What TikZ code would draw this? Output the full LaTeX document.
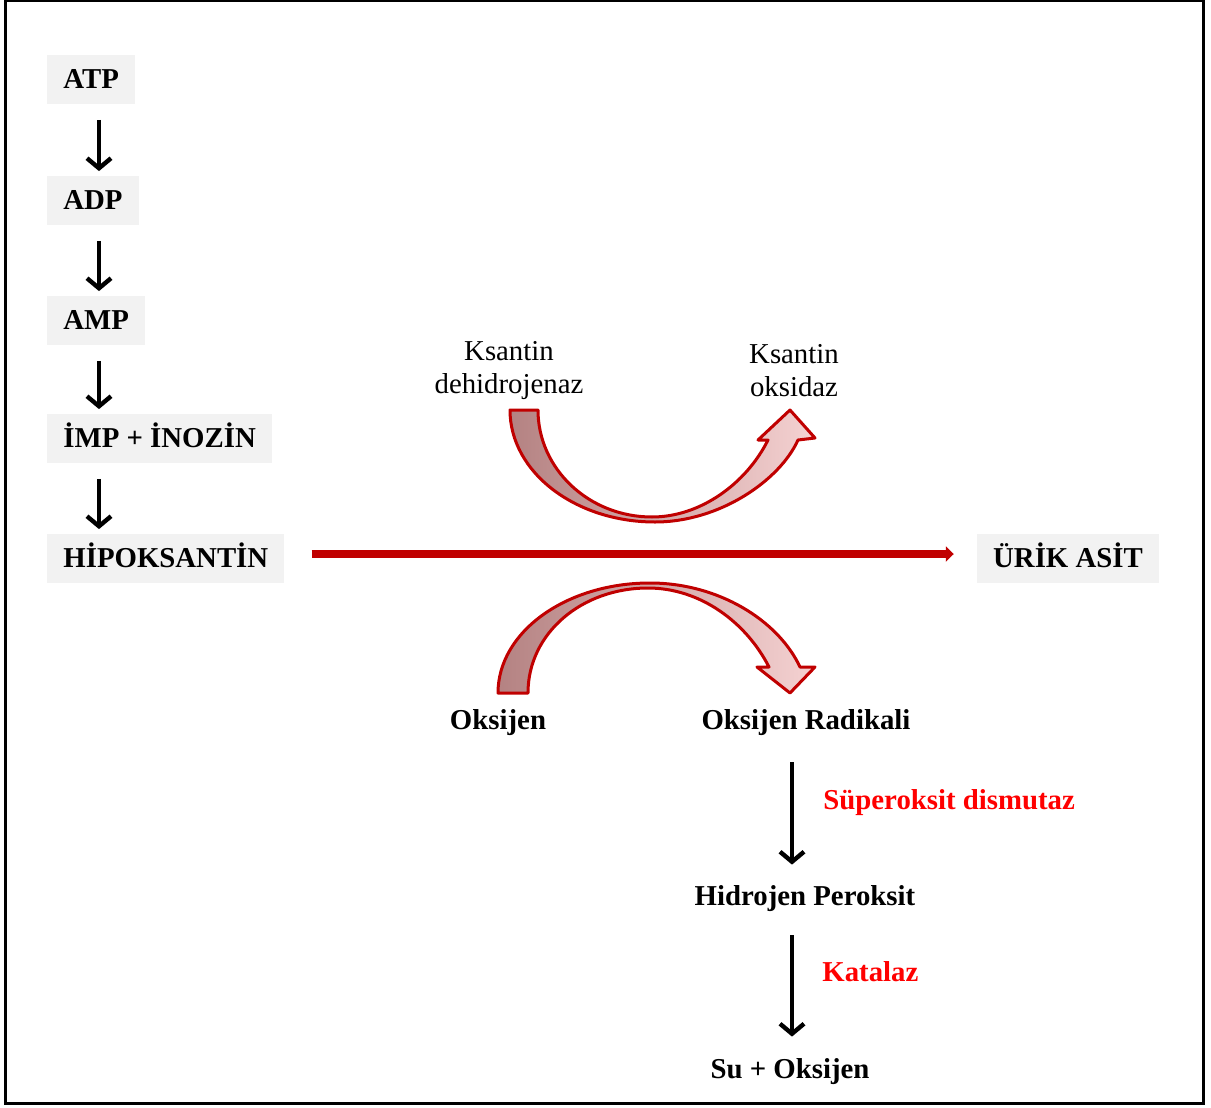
\documentclass[tikz,border=0pt]{standalone}
\usepackage{fontspec}
\setmainfont{Liberation Serif}
\usetikzlibrary{calc, arrows.meta}
\definecolor{darkred}{RGB}{192,0,0}
\definecolor{boxgray}{RGB}{242,242,242}
\definecolor{banddark}{RGB}{180,130,130}
\definecolor{bandlight}{RGB}{245,210,210}

\begin{document}
\begin{tikzpicture}[x=0.5pt, y=-0.5pt,
  every node/.style={font=\fontsize{14.4}{16.5}\selectfont, inner sep=2pt},
  chem/.style={font=\fontsize{14.4}{16.5}\selectfont\bfseries, text height=11.5pt, text depth=2.5pt},
  chembox/.style={chem, fill=boxgray, minimum height=24.5pt, inner xsep=8pt, anchor=west},
  enzyme/.style={align=center},
  redlabel/.style={chem, text=red, anchor=west},
  dnarrow/.style={-{Straight Barb[length=5pt,width=12pt]}, line width=2.2pt},
  redarrow/.style={-{Triangle[length=4pt,width=7.5pt]}, draw=darkred, line width=4pt},
  blockarrow/.style={draw=darkred, line width=1.5pt, line join=round, left color=banddark, right color=bandlight}]
  \useasboundingbox (0,0) rectangle (1211,1108);
  \draw[line width=1.35pt] (5.7,1) rectangle (1203.5,1103.5);

  \node[chembox] (atp) at (47,79) {ATP};
  \node[chembox] (adp) at (47,200) {ADP};
  \node[chembox] (amp) at (47,320) {AMP};
  \node[chembox] (imp) at (47,438) {İMP + İNOZİN};
  \node[chembox] (hipo) at (47,558) {HİPOKSANTİN};
  \node[chembox, anchor=center] (urik) at (1068,558) {ÜRİK ASİT};
  \foreach \a/\b in {atp/adp, adp/amp, amp/imp, imp/hipo}
    \draw[dnarrow] ($(\a.south west)+(52,16)$) -- ($(\b.north west)+(52,-4)$);
  \draw[redarrow, shorten <=13.5pt, shorten >=11.5pt] ($(hipo.east)+(0,-4)$) -- ($(urik.west)+(0,-4)$);

  \node[enzyme] (kdh) at (509,371) {Ksantin\\dehidrojenaz};
  \node[enzyme] (kox) at (794,371) {Ksantin\\oksidaz};
  \draw[blockarrow] (510,410) .. controls (510,472) and (575,522) .. (655,522)
    .. controls (720,522) and (780,480) .. (798,440)
    -- (815,438) -- (790,410) -- (758,440) -- (768,440)
    .. controls (746,484) and (700,517) .. (652,517)
    .. controls (589,517) and (538,469) .. (538,410) -- cycle;

  \node[chem] (oksijen) at (498,720) {Oksijen};
  \node[chem] (radikal) at (806,720) {Oksijen Radikali};
  \draw[blockarrow] (498,693) .. controls (498,632) and (566,583) .. (650,583)
    .. controls (718,583) and (778,620) .. (800,667)
    -- (815,667) -- (790,693) -- (757,667) -- (769,667)
    .. controls (746,622) and (700,588) .. (648,588)
    .. controls (582,588) and (528,633) .. (528,693) -- cycle;

  \node[chem] (hperoks) at (805,896) {Hidrojen Peroksit};
  \node[chem] (suoks) at (790,1069) {Su + Oksijen};
  \coordinate (col) at (792,0);
  \draw[dnarrow, shorten <=12pt, shorten >=6.5pt] (col |- radikal.south) -- (col |- hperoks.north);
  \draw[dnarrow, shorten <=10.5pt, shorten >=7pt] (col |- hperoks.south) -- (col |- suoks.north);
  \node[redlabel] (sod) at (819,800) {Süperoksit dismutaz};
  \node[redlabel] (kat) at (818,972) {Katalaz};
\end{tikzpicture}
\end{document}
